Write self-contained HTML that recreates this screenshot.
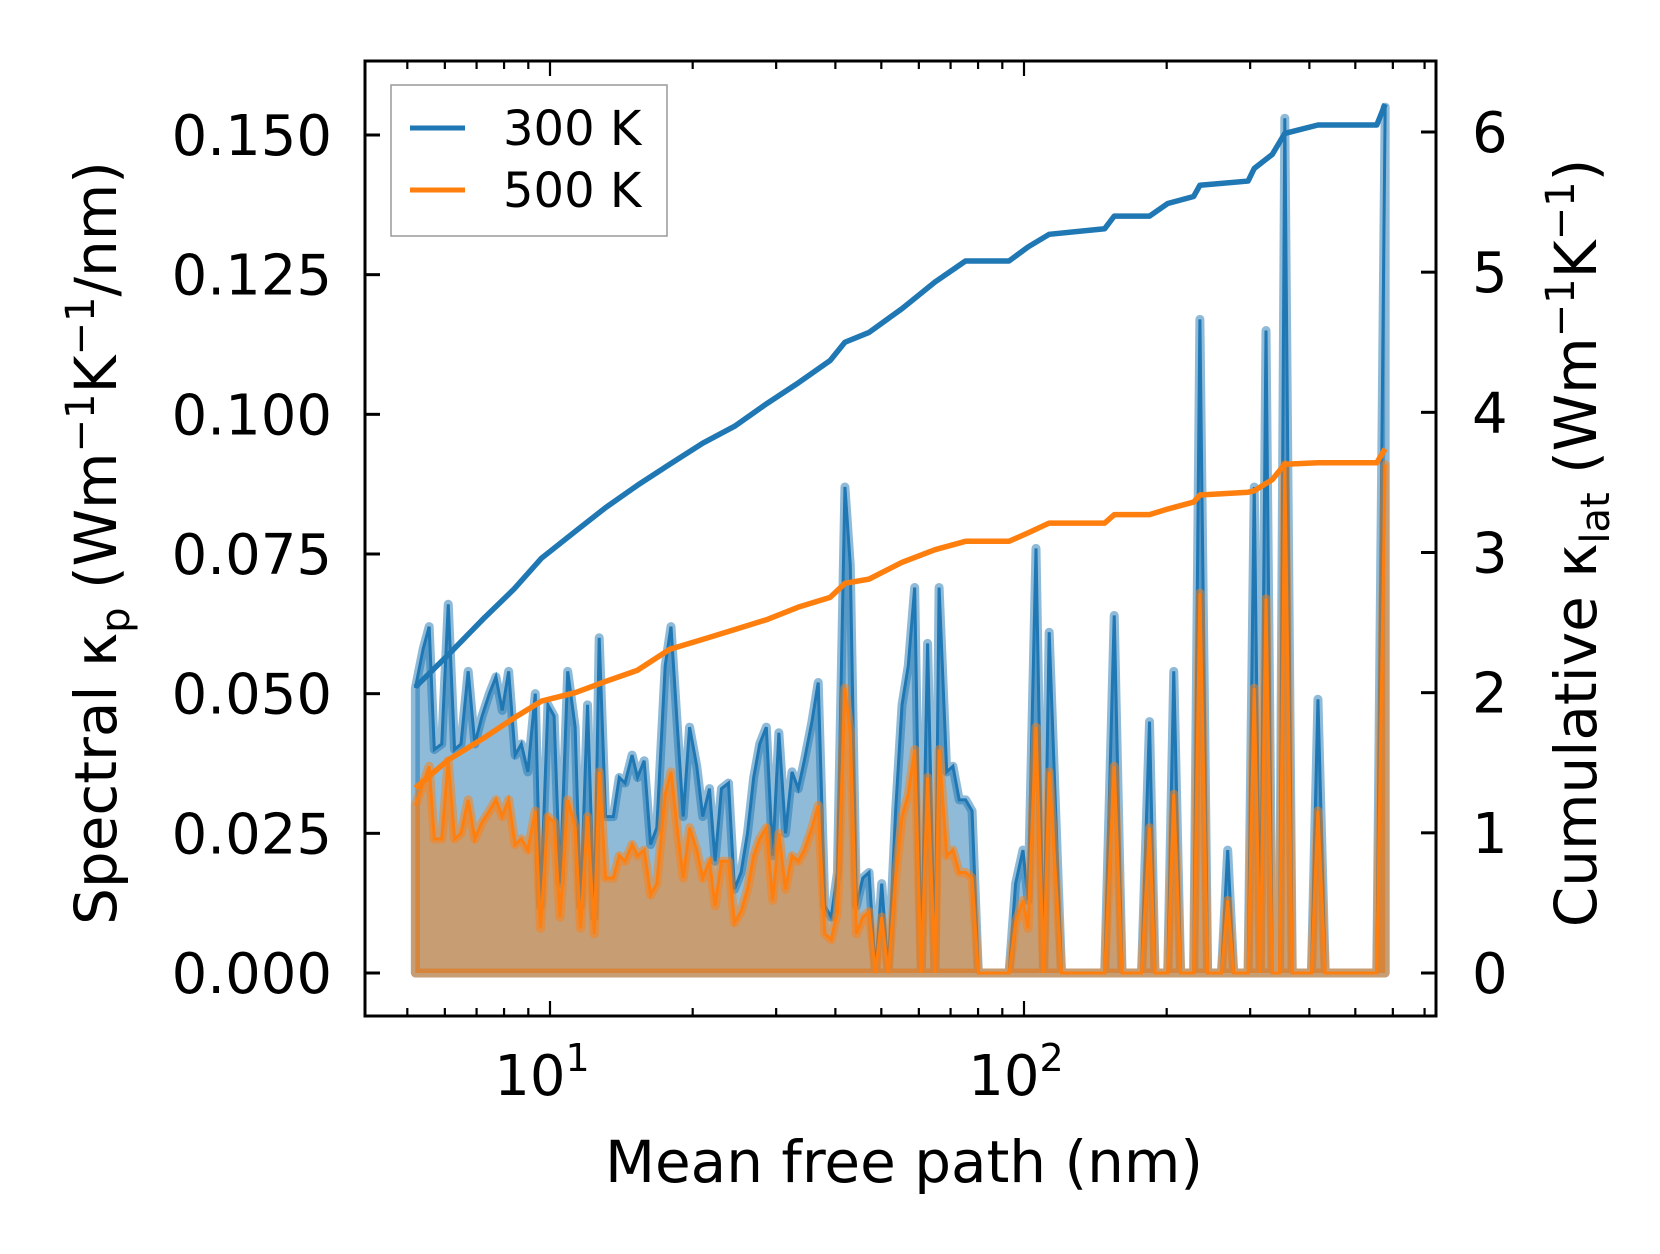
<!DOCTYPE html>
<html><head><meta charset="utf-8"><style>
html,body{margin:0;padding:0;background:#fff;}
svg{display:block;font-family:"DejaVu Sans","Liberation Sans",sans-serif;}
</style></head><body>
<svg id="chart" width="1660" height="1254" viewBox="0 0 1660 1254" xmlns="http://www.w3.org/2000/svg">
<rect width="1660" height="1254" fill="#fff"/>
<g id="plot"></g>
<g id="axes"></g>
<text x="904" y="1182" font-size="58" text-anchor="middle">Mean free path (nm)</text>
<text transform="translate(116,543) rotate(-90)" font-size="58" text-anchor="middle">Spectral κ<tspan font-size="40" dy="13">p</tspan><tspan dy="-13"> (Wm</tspan><tspan font-size="40" dy="-22">−1</tspan><tspan dy="22">K</tspan><tspan font-size="40" dy="-22">−1</tspan><tspan dy="22">/nm)</tspan></text>
<text transform="translate(1596,543) rotate(-90)" font-size="58" text-anchor="middle">Cumulative κ<tspan font-size="40" dy="13">lat</tspan><tspan dy="-13"> (Wm</tspan><tspan font-size="40" dy="-22">−1</tspan><tspan dy="22">K</tspan><tspan font-size="40" dy="-22">−1</tspan><tspan dy="22">)</tspan></text>
<g>
<rect x="391" y="85" width="276" height="151" fill="#fff" fill-opacity="0.8" stroke="#999" stroke-width="1.5"/>
<line x1="410" y1="128" x2="465" y2="128" stroke="#1f77b4" stroke-width="5"/>
<text x="503" y="145" font-size="48">300 K</text>
<line x1="410" y1="190" x2="465" y2="190" stroke="#ff7f0e" stroke-width="5"/>
<text x="503" y="207" font-size="48">500 K</text>
</g>
</svg>
<script>
const mfp = [5.2,5.4,5.56,5.7,5.91,6.1,6.29,6.49,6.72,6.94,7.19,7.45,7.69,7.93,8.18,8.44,8.7,8.98,9.31,9.55,9.9,10.2,10.5,10.9,11.3,11.6,12.0,12.4,12.7,13.1,13.6,14.0,14.4,14.9,15.3,15.8,16.3,16.8,17.5,18.0,18.6,19.1,19.7,20.4,21.0,21.7,22.3,23.0,23.8,24.5,25.3,26.1,26.9,27.7,28.6,29.5,30.4,31.4,32.4,33.4,34.4,35.7,36.8,38.0,39.2,40.4,41.9,43.0,44.3,45.7,47.1,48.6,50.1,51.7,53.6,55.3,57.0,58.8,60.7,62.6,64.9,66.2,68.7,70.8,73.0,75.3,77.7,80.1,83.9,93.0,96.0,99.5,102,106,110,113,120,148,155,161,177,184,189,201,207,214,228,235,244,261,269,277,297,306,315,324,334,346,355,368,404,417,432,555,578];
const kp300 = [0.051,0.058,0.062,0.040,0.041,0.066,0.040,0.041,0.054,0.041,0.046,0.050,0.053,0.047,0.054,0.039,0.041,0.036,0.050,0.012,0.048,0.046,0.016,0.054,0.044,0.012,0.048,0.010,0.060,0.028,0.028,0.035,0.034,0.039,0.035,0.038,0.023,0.026,0.055,0.062,0.043,0.028,0.044,0.037,0.028,0.033,0.020,0.033,0.034,0.015,0.018,0.025,0.035,0.041,0.044,0.021,0.043,0.025,0.036,0.033,0.038,0.045,0.052,0.012,0.010,0.018,0.087,0.073,0.012,0.017,0.018,0,0.016,0,0.029,0.048,0.055,0.069,0,0.059,0,0.069,0.036,0.037,0.031,0.031,0.029,0,0,0,0.016,0.022,0.013,0.076,0,0.061,0,0,0.064,0,0,0.045,0,0,0.054,0,0,0.117,0,0,0.022,0,0,0.087,0,0.115,0,0,0.153,0,0,0.049,0,0,0.155];
const kp500 = [0.030,0.034,0.037,0.024,0.024,0.038,0.024,0.025,0.031,0.024,0.027,0.029,0.031,0.028,0.031,0.023,0.024,0.022,0.029,0.008,0.028,0.027,0.010,0.031,0.026,0.008,0.028,0.007,0.036,0.017,0.017,0.021,0.020,0.023,0.021,0.022,0.014,0.016,0.032,0.036,0.025,0.017,0.026,0.022,0.017,0.020,0.012,0.020,0.020,0.009,0.011,0.015,0.021,0.024,0.026,0.013,0.025,0.015,0.021,0.020,0.022,0.026,0.030,0.007,0.006,0.011,0.051,0.043,0.007,0.010,0.011,0,0.010,0,0.017,0.028,0.032,0.040,0,0.035,0,0.040,0.021,0.022,0.018,0.018,0.017,0,0,0,0.009,0.013,0.008,0.044,0,0.036,0,0,0.037,0,0,0.026,0,0,0.032,0,0,0.068,0,0,0.013,0,0,0.051,0,0.067,0,0,0.091,0,0,0.029,0,0,0.091];
const cumMfp = [5.2,6.1,7.2,8.4,9.6,11.3,13.1,15.3,17.9,21.0,24.5,28.6,33.4,39.0,41.9,47.1,55.3,64.9,75.3,93,102,113,148,155,184,201,228,235,297,306,334,355,417,555,578];
const cum300 = [2.04,2.27,2.52,2.74,2.96,3.15,3.32,3.48,3.63,3.78,3.90,4.06,4.21,4.37,4.50,4.57,4.74,4.93,5.08,5.08,5.18,5.27,5.31,5.40,5.40,5.49,5.54,5.62,5.65,5.74,5.84,5.99,6.05,6.05,6.20];
const cum500 = [1.32,1.52,1.67,1.82,1.94,2.00,2.08,2.16,2.31,2.38,2.45,2.52,2.61,2.68,2.78,2.81,2.93,3.02,3.08,3.08,3.14,3.21,3.21,3.27,3.27,3.31,3.36,3.41,3.43,3.44,3.52,3.63,3.64,3.64,3.74];
const leftTicks = ["0.000","0.025","0.050","0.075","0.100","0.125","0.150"];
const rightTicks = ["0","1","2","3","4","5","6"];
const xDecades = [1,2];

const NS="http://www.w3.org/2000/svg";
const L=365,R=1436,T=61,B=1016;
const xs=v=>550+(Math.log10(v)-1)*474;
const yl=v=>973-v*(838/0.15);
const yr=v=>973-v*(841/6);
function mk(tag,attrs,parent){const e=document.createElementNS(NS,tag);for(const k in attrs)e.setAttribute(k,attrs[k]);parent.appendChild(e);return e;}
const plot=document.getElementById('plot'),axes=document.getElementById('axes');

function spectral(vals,color,name){
  let d=`M${xs(mfp[0])},${yl(0)}`;
  vals.forEach((v,i)=>{d+=` L${xs(mfp[i])},${yl(v)}`;});
  d+=` L${xs(mfp[mfp.length-1])},${yl(0)} Z`;
  const a=mk('path',{d:d,fill:color,'fill-opacity':0.5,stroke:color,'stroke-opacity':0.5,'stroke-width':9,'stroke-linejoin':'round'},plot);
  
  
  const l=mk('polyline',{points:vals.map((v,i)=>xs(mfp[i])+','+yl(v)).join(' '),fill:'none',stroke:color,'stroke-width':3},plot);
  
  
}
spectral(kp300,'#1f77b4','spectral-300k');
spectral(kp500,'#ff7f0e','spectral-500k');
function cum(vals,color,name){
  let pts=vals.map((v,i)=>xs(cumMfp[i])+','+yr(v)).join(' ');
  const l=mk('polyline',{points:pts,fill:'none',stroke:color,'stroke-width':5.5,'stroke-linejoin':'round'},plot);
  
  
}
cum(cum300,'#1f77b4','cumulative-300k');
cum(cum500,'#ff7f0e','cumulative-500k');

const fr=mk('rect',{x:L,y:T,width:R-L,height:B-T,fill:'none',stroke:'#000','stroke-width':3},axes);


leftTicks.forEach((t,i)=>{
  const y=yl(i*0.025);
  mk('line',{x1:L,y1:y,x2:L+15,y2:y,stroke:'#000','stroke-width':3},axes);
  const tx=mk('text',{x:332,y:y+20,'font-size':56,'text-anchor':'end'},axes);tx.textContent=t;
  
  
});
rightTicks.forEach((t,i)=>{
  const y=yr(+t);
  mk('line',{x1:R-15,y1:y,x2:R,y2:y,stroke:'#000','stroke-width':3},axes);
  const tx=mk('text',{x:1472,y:y+20,'font-size':56},axes);tx.textContent=t;
  
  
});
for(let dec=0;dec<=2;dec++){for(let m=1;m<10;m++){const v=m*Math.pow(10,dec);const x=xs(v);if(x<L||x>R)continue;const len=m===1?15:8;
  mk('line',{x1:x,y1:B,x2:x,y2:B-len,stroke:'#000','stroke-width':2.2},axes);
  mk('line',{x1:x,y1:T,x2:x,y2:T+len,stroke:'#000','stroke-width':2.2},axes);}}
xDecades.forEach(p=>{
  const x=xs(Math.pow(10,p));
  const tx=mk('text',{x:x-8,y:1095,'font-size':56,'text-anchor':'middle'},axes);
  
  
  tx.textContent='10';
  const s=mk('tspan',{'font-size':38,dy:-24},tx);s.textContent=String(p);
});
</script>
</body></html>
